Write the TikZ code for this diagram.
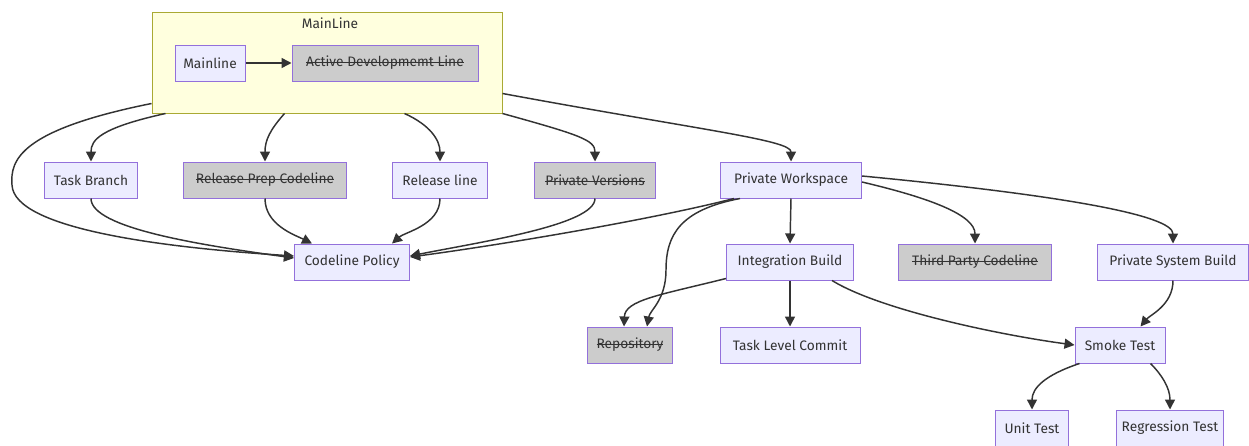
\documentclass[tikz,border=0pt]{standalone}
\usepackage{fontspec}
\setmainfont{Fira Sans}
\usetikzlibrary{arrows.meta,calc}
\definecolor{nfill}{HTML}{ECECFF}
\definecolor{nstroke}{HTML}{9370DB}
\definecolor{gfill}{HTML}{CCCCCC}
\definecolor{cfill}{HTML}{FFFFDE}
\definecolor{cstroke}{HTML}{AAAA33}
\definecolor{ink}{HTML}{333333}
\newcommand\mystrike[1]{\setbox0\hbox{#1}\rlap{\color{ink}\rule[0.27em]{\wd0}{0.6pt}}\box0}
\tikzset{
  box/.style={draw=nstroke, fill=nfill, line width=0.75pt, minimum height=27pt, inner sep=2pt, text=ink, font=\fontsize{10.3}{12}\selectfont},
  gbox/.style={box, fill=gfill},
  edge/.style={draw=ink, line width=1.1pt, -{Triangle[length=7.5pt,width=7.5pt]}},
}
\begin{document}
\begin{tikzpicture}[x=0.75pt,y=-0.75pt]
\useasboundingbox (0,0) rectangle (1249,446);
\node[draw=cstroke, fill=cfill, line width=0.75pt, minimum width=262.5pt, minimum height=75.75pt, inner sep=0pt] (ml) at (327,62.5) {};
\node[text=ink, font=\fontsize{10.3}{12}\selectfont] (mlt) at (330,23) {MainLine};

\node[box, minimum width=52.5pt] (m) at (210,63) {Mainline};
\node[gbox, minimum width=139.5pt] (adl) at (385,63) {\mystrike{Active Developmemt Line}};

\node[box, minimum width=69.75pt] (tb) at (91,180) {Task Branch};
\node[gbox, minimum width=122.25pt] (rp) at (265,180) {\mystrike{Release Prep Codeline}};
\node[box, minimum width=71.25pt] (rl) at (440,180) {Release line};
\node[gbox, minimum width=90.75pt] (pv) at (595,180) {\mystrike{Private Versions}};
\node[box, minimum width=105.75pt] (pw) at (791,180) {Private Workspace};

\node[box, minimum width=86.25pt] (cp) at (352,262) {Codeline Policy};
\node[box, minimum width=95.25pt] (ib) at (790,262) {Integration Build};
\node[gbox, minimum width=114.75pt] (tp) at (975,262) {\mystrike{Third Party Codeline}};
\node[box, minimum width=113.25pt] (psb) at (1173,262) {Private System Build};

\node[gbox, minimum width=63.75pt] (repo) at (630,345) {\mystrike{Repository}};
\node[box, minimum width=105pt] (tlc) at (790,345) {Task Level Commit};
\node[box, minimum width=67.5pt] (st) at (1120,345) {Smoke Test};

\node[box, minimum width=54.75pt] (ut) at (1032,428) {Unit Test};
\node[box, minimum width=80.25pt] (rt) at (1170,428) {Regression Test};

\draw[edge] (m) -- (adl);
\draw[edge] ($(ml.south west)+(14,0)$) .. controls (100,128) and (91,140) .. (tb.north);
\draw[edge] ($(ml.south west)+(133,0)$) .. controls (270,130) and (265,140) .. (rp.north);
\draw[edge] ($(ml.south west)+(253,0)$) .. controls (430,125) and (440,140) .. (rl.north);
\draw[edge] (ml.south east) .. controls (580,135) and (595,140) .. (pv.north);
\draw[edge] ($(ml.south east)+(0,-20)$) .. controls (700,130) and (791,140) .. (pw.north);
\draw[edge] ($(ml.south west)+(0,-10)$) .. controls (20,130) and (10,160) .. (12,185) .. controls (14,230) and (170,248) .. ($(cp.west)+(0,-6)$);

\draw[edge] (tb.south) .. controls (91,228) and (200,245) .. ($(cp.west)+(0,-4)$);
\draw[edge] (rp.south) .. controls (265,225) and (295,235) .. ($(cp.north west)+(18,0)$);
\draw[edge] (rl.south) .. controls (440,225) and (405,232) .. ($(cp.north east)+(-18,0)$);
\draw[edge] (pv.south) .. controls (595,225) and (480,242) .. ($(cp.east)+(0,-6)$);
\draw[edge] ($(pw.south west)+(14,0)$) .. controls (650,220) and (500,245) .. ($(cp.east)+(0,-5)$);

\draw[edge] ($(pw.south west)+(20,0)$) .. controls (680,210) and (666,235) .. (666,270) .. controls (666,300) and (650,310) .. ($(repo.north east)+(-26,0)$);
\draw[edge] (pw.south) -- (ib.north);
\draw[edge] ($(pw.east)+(0,2)$) .. controls (930,198) and (975,215) .. (tp.north);
\draw[edge] ($(pw.east)+(0,-4)$) .. controls (1060,195) and (1173,215) .. (psb.north);

\draw[edge] ($(ib.south west)+(0,-2)$) .. controls (660,295) and (625,300) .. ($(repo.north west)+(37,0)$);
\draw[edge] (ib.south) -- (tlc.north);
\draw[edge] ($(ib.south east)+(-22,0)$) .. controls (880,310) and (1000,335) .. (st.west);
\draw[edge] (psb.south) .. controls (1173,305) and (1150,315) .. ($(st.north east)+(-25,0)$);
\draw[edge] ($(st.south west)+(5,0)$) .. controls (1045,375) and (1032,388) .. (ut.north);
\draw[edge] ($(st.south east)+(-15,0)$) .. controls (1162,375) and (1170,388) .. (rt.north);
\end{tikzpicture}
\end{document}
